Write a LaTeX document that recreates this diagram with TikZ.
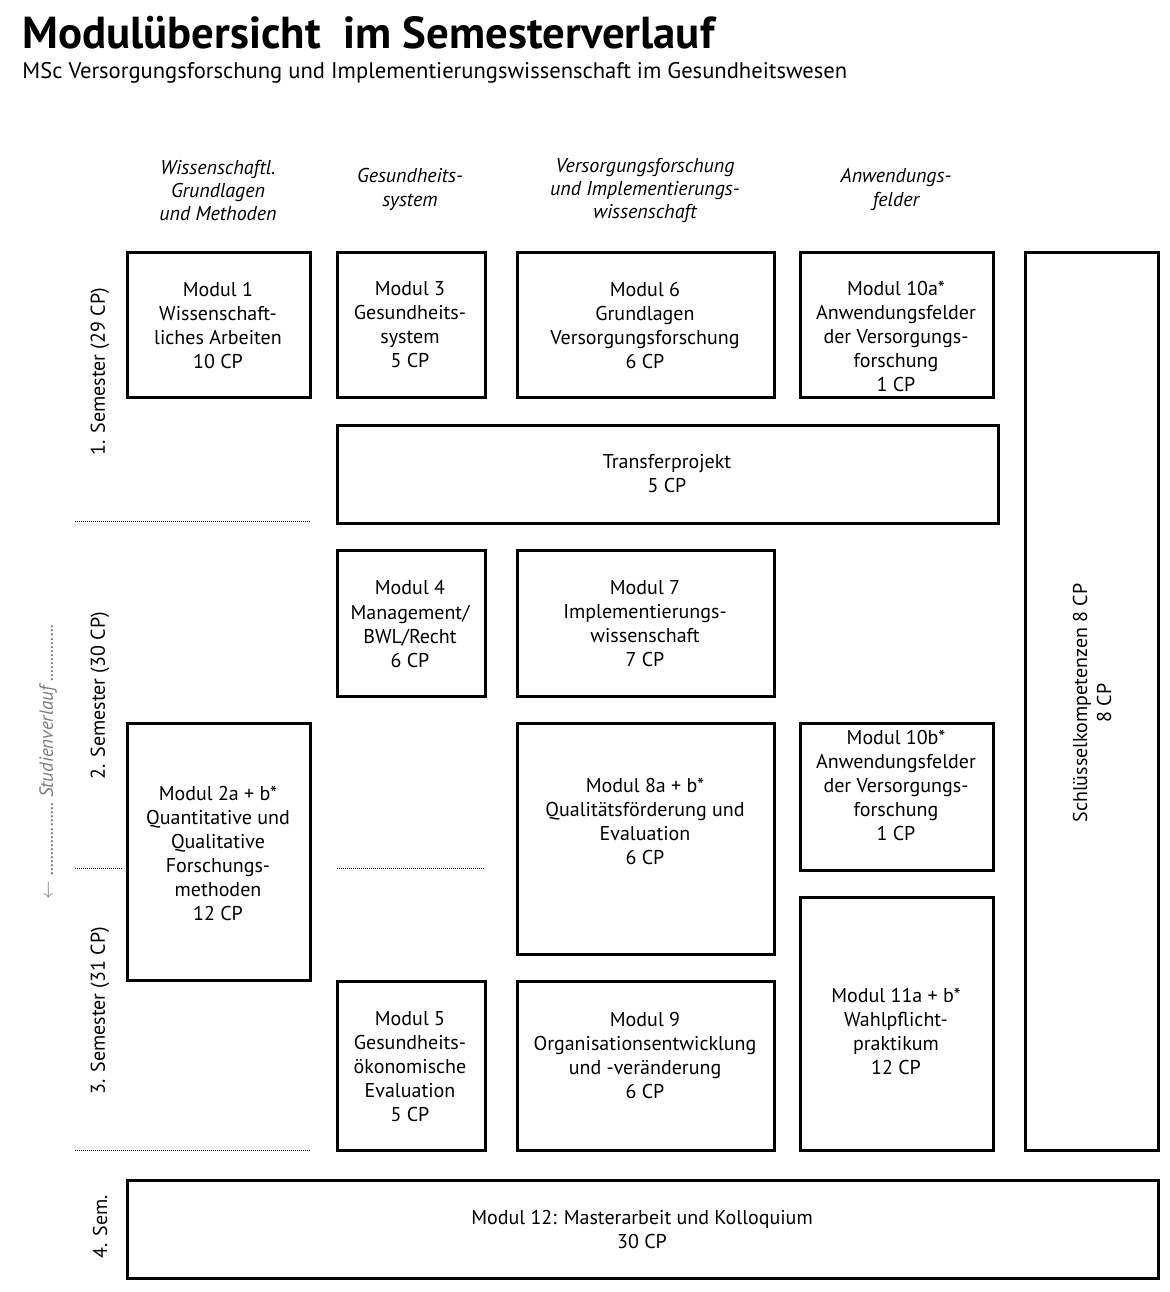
\documentclass[tikz,border=0pt]{standalone}
\usepackage{fontspec}
\setmainfont{PT Sans}
\usetikzlibrary{fit}
\definecolor{verlaufgrey}{HTML}{7A7A7A}

\begin{document}
\begin{tikzpicture}[
  x=0.5pt,y=-0.5pt,
  modbox/.style={draw,line width=1.5pt,inner sep=0pt},
  modtext/.style={align=center,inner sep=0pt,font=\fontsize{10}{12}\selectfont},
  coltitle/.style={align=center,inner sep=0pt,font=\itshape\fontsize{10}{11.7}\selectfont},
  semlabel/.style={rotate=90,inner sep=0pt,font=\fontsize{10}{12}\selectfont},
  semline/.style={line width=0.5pt,dash pattern=on 0.5pt off 0.5pt},
]
\useasboundingbox (0,0) rectangle (1170,1292);

% title
\node[anchor=base west,inner sep=0pt,font=\bfseries\fontsize{22.4}{26}\selectfont] (title)
  at (22,48) {Modulübersicht\ \ im Semesterverlauf};
\node[anchor=base west,inner sep=0pt,font=\fontsize{11.3}{13}\selectfont] (subtitle)
  at (22,78) {MSc Versorgungsforschung und Implementierungswissenschaft im Gesundheitswesen};

% column heads
\node[coltitle] (col1) at (218,190.5) {Wissenschaftl.\\Grundlagen\\und Methoden};
\node[coltitle] (col2) at (410,189.5) {Gesundheits-\\system};
\node[coltitle] (col3) at (645,190.5) {Versorgungsforschung\\und Implementierungs-\\wissenschaft};
\node[coltitle] (col4) at (896,189.5) {Anwendungs-\\felder};

% semesters
\node[semlabel] (sem1) at (100,372) {1. Semester (29 CP)};
\node[semlabel] (sem2) at (100,696) {2. Semester (30 CP)};
\node[semlabel] (sem3) at (100,1011) {3. Semester (31 CP)};
\node[semlabel] (sem4) at (100,1227) {4. Sem.};
\node[rotate=90,inner sep=0pt,text=verlaufgrey,font=\itshape\fontsize{9.5}{12}\selectfont] (verlauf)
  at (48,762) {$\leftarrow$\ ..................\ Studienverlauf\ ..............};

\coordinate (d1a) at (75,521);  \coordinate (d1b) at (310,521);
\coordinate (d2a) at (75,868);  \coordinate (d2b) at (122,868);
\coordinate (d2c) at (337,868); \coordinate (d2d) at (485,868);
\coordinate (d3a) at (75,1150); \coordinate (d3b) at (310,1150);
\draw[semline] (d1a) -- (d1b);
\draw[semline] (d2a) -- (d2b);
\draw[semline] (d2c) -- (d2d);
\draw[semline] (d3a) -- (d3b);

% boxes
\node[modbox,fit={(127,252) (310,397)}]   (m1)   {};
\node[modbox,fit={(337,252) (485,397)}]   (m3)   {};
\node[modbox,fit={(517,252) (774,397)}]   (m6)   {};
\node[modbox,fit={(800,252) (993,397)}]   (m10a) {};
\node[modbox,fit={(1025,252) (1158,1150)}] (sk)  {};
\node[modbox,fit={(337,425) (998,523)}]   (tp)   {};
\node[modbox,fit={(337,550) (485,696)}]   (m4)   {};
\node[modbox,fit={(517,550) (774,696)}]   (m7)   {};
\node[modbox,fit={(127,723) (310,980)}]   (m2)   {};
\node[modbox,fit={(517,723) (774,954)}]   (m8)   {};
\node[modbox,fit={(800,723) (993,870)}]   (m10b) {};
\node[modbox,fit={(800,897) (993,1150)}]  (m11)  {};
\node[modbox,fit={(337,981) (485,1150)}]  (m5)   {};
\node[modbox,fit={(517,981) (774,1150)}]  (m9)   {};
\node[modbox,fit={(127,1180) (1158,1278)}] (m12) {};

% texts
\node[modtext] (m1t)   at (218,325)    {Modul 1\\Wissenschaft-\\liches Arbeiten\\10 CP};
\node[modtext] (m3t)   at (410,325)    {Modul 3\\Gesundheits-\\system\\5 CP};
\node[modtext] (m6t)   at (645,325)    {Modul 6\\Grundlagen\\Versorgungsforschung\\6 CP};
\node[modtext] (m10at) at (896,336.5)  {Modul 10a*\\Anwendungsfelder\\der Versorgungs-\\forschung\\1 CP};
\node[modtext] (tpt)   at (667,474)    {Transferprojekt\\5 CP};
\node[modtext] (m4t)   at (410,624)    {Modul 4\\Management/\\BWL/Recht\\6 CP};
\node[modtext] (m7t)   at (645,624)    {Modul 7\\Implementierungs-\\wissenschaft\\7 CP};
\node[modtext] (m2t)   at (218,853)    {Modul 2a + b*\\Quantitative und\\Qualitative\\Forschungs-\\methoden\\12 CP};
\node[modtext] (m8t)   at (645,821)    {Modul 8a + b*\\Qualitätsförderung und\\Evaluation\\6 CP};
\node[modtext] (m10bt) at (896,785)    {Modul 10b*\\Anwendungsfelder\\der Versorgungs-\\forschung\\1 CP};
\node[modtext] (m11t)  at (896,1031)   {Modul 11a + b*\\Wahlpflicht-\\praktikum\\12 CP};
\node[modtext] (m5t)   at (410,1066.5) {Modul 5\\Gesundheits-\\ökonomische\\Evaluation\\5 CP};
\node[modtext] (m9t)   at (645,1055)   {Modul 9\\Organisationsentwicklung\\und -veränderung\\6 CP};
\node[modtext] (m12t)  at (642,1229)   {Modul 12: Masterarbeit und Kolloquium\\30 CP};
\node[modtext,rotate=90] (skt) at (1092,703) {Schlüsselkompetenzen 8 CP\\8 CP};
\end{tikzpicture}
\end{document}
